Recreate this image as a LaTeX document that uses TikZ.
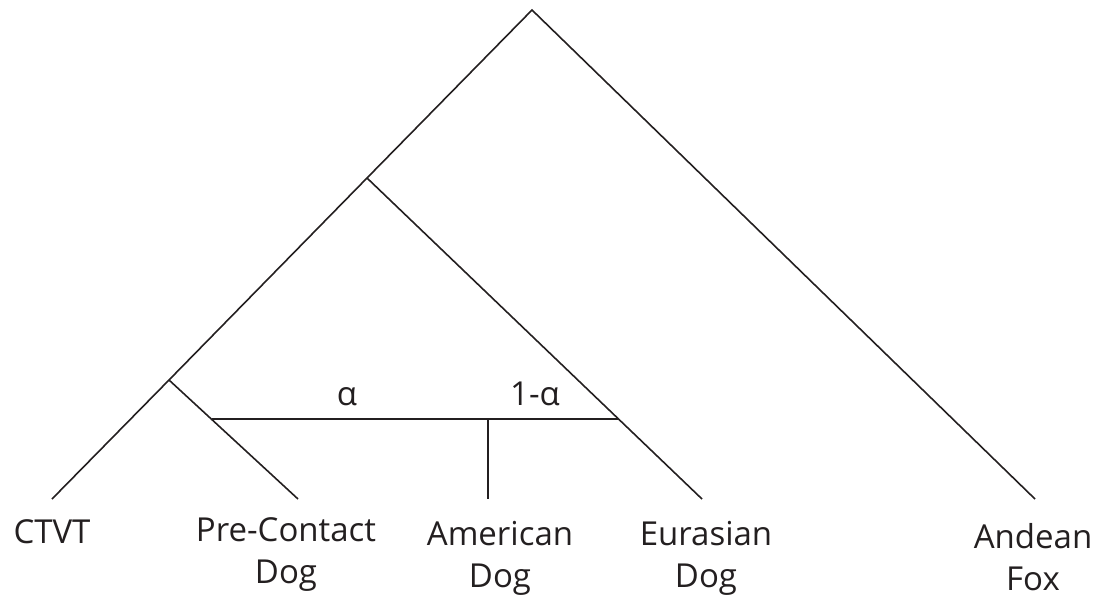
\documentclass[tikz,border=0pt]{standalone}
\usepackage{fontspec}
\setmainfont{Open Sans}
\definecolor{ink}{HTML}{231F20}
\begin{document}
\begin{tikzpicture}[x=1pt,y=-1pt,
  branch/.style={draw=ink,line width=1.6pt},
  leaf/.style={text=ink,font=\fontsize{33}{42}\selectfont,align=center,anchor=base,inner sep=0pt},
  wlabel/.style={text=ink,font=\fontsize{33}{42}\selectfont,anchor=base,inner sep=0pt}]
\useasboundingbox (0,0) rectangle (1099,598);
% tree points
\coordinate (root) at (532,10);
\coordinate (n1) at (367,178);
\coordinate (n2) at (169,380);
\coordinate (ctvtEnd) at (52,499);
\coordinate (pcEnd) at (298,499);
\coordinate (euEnd) at (702,499);
\coordinate (foxEnd) at (1035,499);
\coordinate (h1) at (212,419);
\coordinate (h2) at (618,419);
\coordinate (amTop) at (488,419);
\coordinate (amEnd) at (488,499);
% branches
\draw[branch] (ctvtEnd) -- (n2) -- (n1) -- (root) -- (foxEnd);
\draw[branch] (n2) -- (pcEnd);
\draw[branch] (n1) -- (euEnd);
\draw[branch] (h1) -- (h2);
\draw[branch] (amTop) -- (amEnd);
% labels (anchored at the baseline of the last line)
\node[leaf] (ctvt) at (52,543) {CTVT};
\node[leaf] (pc) at (286,583) {Pre-Contact\\Dog};
\node[leaf] (am) at (500,587) {American\\Dog};
\node[leaf] (eu) at (706,587) {Eurasian\\Dog};
\node[leaf] (fox) at (1033,590) {Andean\\Fox};
\node[wlabel] (alpha) at (347,405) {α};
\node[wlabel] (oneminus) at (535,405) {1-α};
\end{tikzpicture}
\end{document}
